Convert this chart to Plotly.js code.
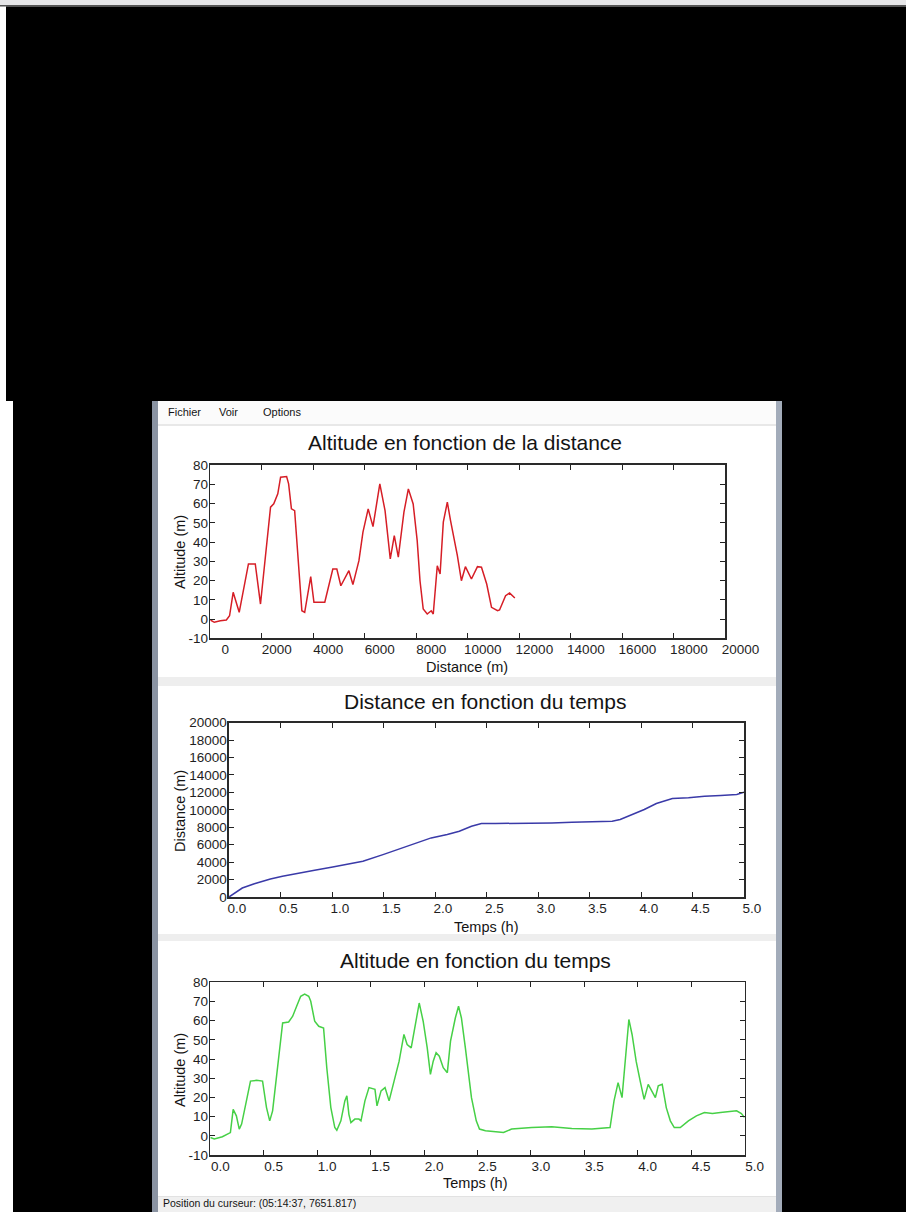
<!DOCTYPE html>
<html>
<head>
<meta charset="utf-8">
<script src="https://cdn.plot.ly/plotly-3.0.1.min.js"></script>
<style>
html,body{margin:0;padding:0;background:#fff;}
#chart{width:906px;height:1212px;}
</style>
</head>
<body>
<div id="chart"></div>
<script>
// ---------- data ----------
const distanceAxisDistance = [0, 155, 389, 623, 748, 888, 1122, 1481, 1746, 1949, 2339, 2464, 2620, 2729, 2963, 3041, 3150, 3275, 3556, 3665, 3899, 4024, 4445, 4757, 4913, 5069, 5381, 5537, 5771, 5927, 6130, 6317, 6582, 6785, 6988, 7144, 7300, 7518, 7690, 7877, 8033, 8142, 8267, 8423, 8579, 8657, 8813, 8922, 9047, 9203, 9328, 9593, 9749, 9905, 10139, 10373, 10529, 10732, 10919, 11153, 11231, 11465, 11621, 11824];
const altitudeByDistance = [-0.5, -1.7, -0.9, -0.5, 1.7, 13.9, 3.5, 28.6, 28.6, 7.8, 58.1, 59.8, 65, 73.7, 74, 70.2, 57.2, 56.3, 4.3, 3.5, 22, 8.7, 8.7, 26, 26, 17.3, 25.1, 17.9, 30.3, 45.1, 57.2, 48, 70.2, 56.3, 31.2, 43.3, 32.1, 55.5, 67.6, 59.8, 40.7, 19.9, 5.2, 2.6, 4.3, 2.6, 27.7, 23.4, 50.3, 60.7, 51.1, 32.9, 19.9, 27.2, 20.8, 27.2, 26.9, 18.2, 6.1, 4.3, 4.7, 12.1, 13.5, 10.9];

const timeForDistance = [0, 0.129, 0.246, 0.402, 0.519, 0.675, 0.831, 1.007, 1.144, 1.300, 1.495, 1.651, 1.807, 1.963, 2.119, 2.236, 2.354, 2.451, 2.588, 2.744, 2.939, 3.134, 3.329, 3.525, 3.720, 3.798, 3.915, 4.032, 4.149, 4.305, 4.461, 4.617, 4.774, 4.930, 5.0];
const distanceByTime = [0, 1030, 1530, 2070, 2375, 2760, 3065, 3450, 3715, 4100, 4865, 5520, 6205, 6780, 7165, 7550, 8120, 8430, 8430, 8430, 8505, 8505, 8580, 8660, 8700, 8890, 9460, 10040, 10730, 11300, 11380, 11570, 11650, 11760, 12030];

const timeForAltitude = [0, 0.038, 0.113, 0.169, 0.188, 0.214, 0.244, 0.271, 0.293, 0.338, 0.376, 0.432, 0.489, 0.526, 0.556, 0.583, 0.632, 0.677, 0.733, 0.771, 0.808, 0.846, 0.883, 0.921, 0.940, 0.977, 1.015, 1.060, 1.090, 1.128, 1.165, 1.184, 1.222, 1.259, 1.278, 1.297, 1.316, 1.353, 1.391, 1.410, 1.447, 1.485, 1.541, 1.560, 1.598, 1.635, 1.673, 1.711, 1.767, 1.812, 1.842, 1.880, 1.917, 1.955, 1.992, 2.030, 2.060, 2.086, 2.113, 2.143, 2.180, 2.218, 2.248, 2.293, 2.323, 2.350, 2.387, 2.444, 2.489, 2.519, 2.575, 2.669, 2.744, 2.820, 3.008, 3.195, 3.383, 3.571, 3.684, 3.741, 3.778, 3.816, 3.853, 3.891, 3.917, 3.947, 3.985, 4.023, 4.060, 4.098, 4.135, 4.165, 4.192, 4.229, 4.267, 4.305, 4.342, 4.398, 4.474, 4.549, 4.624, 4.699, 4.774, 4.850, 4.925, 4.970, 5.0];
const altitudeByTime = [-0.9, -1.7, -0.5, 0.9, 1.7, 13.8, 10.4, 3.5, 6.1, 18.2, 28.5, 28.9, 28.5, 14.7, 7.8, 13.0, 37.2, 58.8, 59.3, 62.3, 67.5, 72.7, 73.9, 72.7, 70.1, 59.7, 57.1, 56.2, 35.5, 14.7, 4.3, 2.9, 7.8, 18.2, 20.8, 11.2, 6.9, 8.7, 8.7, 7.8, 18.2, 25.1, 24.2, 15.6, 23.4, 25.1, 18.2, 26.8, 38.9, 52.8, 47.6, 45.8, 58.0, 69.2, 59.7, 45.8, 32.0, 38.9, 43.3, 41.5, 35.5, 32.9, 49.3, 61.4, 67.5, 61.4, 45.8, 19.9, 7.8, 3.5, 2.6, 2.2, 1.7, 3.5, 4.3, 4.7, 3.8, 3.5, 4.0, 4.3, 18.2, 27.7, 19.9, 44.1, 60.6, 52.8, 38.9, 28.5, 19.0, 26.8, 23.4, 19.9, 26.0, 26.8, 14.7, 7.8, 4.3, 4.3, 7.8, 10.4, 12.1, 11.6, 12.1, 12.6, 13.0, 11.6, 9.5];

const altitudeTickValues = [-10, 0, 10, 20, 30, 40, 50, 60, 70, 80];
const altitudeTickText = ['-10', '0', '10', '20', '30', '40', '50', '60', '70', '80'];
const distanceTickValues = [0, 2000, 4000, 6000, 8000, 10000, 12000, 14000, 16000, 18000, 20000];
const distanceTickText = ['0', '2000', '4000', '6000', '8000', '10000', '12000', '14000', '16000', '18000', '20000'];
const timeTickValues = [0, 0.5, 1.0, 1.5, 2.0, 2.5, 3.0, 3.5, 4.0, 4.5, 5.0];
const timeTickText = ['0.0', '0.5', '1.0', '1.5', '2.0', '2.5', '3.0', '3.5', '4.0', '4.5', '5.0'];

const chartTitles = ['Altitude en fonction de la distance', 'Distance en fonction du temps', 'Altitude en fonction du temps'];
const xAxisTitles = ['Distance (m)', 'Temps (h)', 'Temps (h)'];
const yAxisTitles = ['Altitude (m)', 'Distance (m)', 'Altitude (m)'];
const menuItems = ['Fichier', 'Voir', 'Options'];
const statusText = 'Position du curseur: (05:14:37, 7651.817)';

// ---------- layout helpers (pixel -> paper) ----------
const W = 906, H = 1212;
const fx = p => p / W;
const fy = p => 1 - p / H;
const FONT = 'Liberation Sans, Arial, sans-serif';

function rect(x0, y0, x1, y1, color) {
  return {type: 'rect', xref: 'paper', yref: 'paper', layer: 'below',
    x0: fx(x0), x1: fx(x1), y0: fy(y1), y1: fy(y0),
    fillcolor: color, line: {width: 0}};
}
function ann(text, x, y, size, extra) {
  return Object.assign({text: text, xref: 'paper', yref: 'paper', x: fx(x), y: fy(y),
    xanchor: 'center', yanchor: 'middle', showarrow: false,
    font: {family: FONT, size: size, color: '#141414'}}, extra || {});
}
function xAxis(domL, domR, range, vals, text, shift, anchor) {
  return {domain: [fx(domL), fx(domR)], range: range, anchor: anchor,
    tickmode: 'array', tickvals: vals, ticktext: text,
    ticks: 'inside', ticklen: 5, tickwidth: 1, tickcolor: '#222',
    showline: true, linecolor: '#2a2a2a', linewidth: 1.6, mirror: 'ticks',
    showgrid: false, zeroline: false, fixedrange: true,
    ticklabelshift: shift, ticklabelstandoff: -2,
    tickfont: {family: FONT, size: 13.5, color: '#1e1e1e'}};
}
function yAxis(domT, domB, range, vals, text, anchor) {
  return {domain: [fy(domB), fy(domT)], range: range, anchor: anchor,
    tickmode: 'array', tickvals: vals, ticktext: text,
    ticks: 'inside', ticklen: 5, tickwidth: 1, tickcolor: '#222',
    showline: true, linecolor: '#2a2a2a', linewidth: 1.6, mirror: 'ticks',
    showgrid: false, zeroline: false, fixedrange: true,
    ticklabelstandoff: -2,
    tickfont: {family: FONT, size: 13.5, color: '#1e1e1e'}};
}

const traces = [
  {x: distanceAxisDistance, y: altitudeByDistance, xaxis: 'x', yaxis: 'y', type: 'scatter', mode: 'lines',
   line: {color: 'rgb(214,30,38)', width: 1.5}, hoverinfo: 'skip'},
  {x: timeForDistance, y: distanceByTime, xaxis: 'x2', yaxis: 'y2', type: 'scatter', mode: 'lines',
   line: {color: 'rgb(58,58,168)', width: 1.5}, hoverinfo: 'skip'},
  {x: timeForAltitude, y: altitudeByTime, xaxis: 'x3', yaxis: 'y3', type: 'scatter', mode: 'lines',
   line: {color: 'rgb(70,208,70)', width: 1.5}, hoverinfo: 'skip'}
];

const shapes = [
  rect(0, 0, 906, 5, '#e6e6e8'),
  rect(0, 5, 906, 6.5, '#555'),
  rect(6, 6.5, 906, 401, '#000'),
  rect(13, 401, 152, 1212, '#000'),
  rect(782, 401, 906, 1212, '#000'),
  rect(152, 401, 158, 1212, '#8a93a2'),
  rect(776, 401, 782, 1212, '#a3acba'),
  rect(158, 401, 776, 424, '#fbfbfb'),
  rect(158, 424, 776, 426, '#e8e8e8'),
  rect(158, 677, 776, 686, '#eeeeee'),
  rect(158, 934, 776, 941, '#eeeeee'),
  rect(158, 1197, 776, 1212, '#f0f0f0'),
  rect(158, 1196, 776, 1197, '#e2e2e2')
];

const annotations = [
  ann(chartTitles[0], 465.4, 443, 21),
  ann(chartTitles[1], 485.5, 701.7, 21),
  ann(chartTitles[2], 475.5, 960, 21),
  ann(xAxisTitles[0], 466.6, 666.7, 14.5),
  ann(xAxisTitles[1], 485.5, 926.7, 14.5),
  ann(xAxisTitles[2], 475.5, 1183.3, 14.5),
  ann(yAxisTitles[0], 180, 552, 14.5, {textangle: -90}),
  ann(yAxisTitles[1], 180, 811, 14.5, {textangle: -90}),
  ann(yAxisTitles[2], 180, 1070, 14.5, {textangle: -90}),
  ann(menuItems[0], 166, 411.7, 11, {xanchor: 'left'}),
  ann(menuItems[1], 216.5, 411.7, 11, {xanchor: 'left'}),
  ann(menuItems[2], 261, 411.7, 11, {xanchor: 'left'}),
  ann(statusText, 161, 1211, 10.5, {xanchor: 'left', yanchor: 'bottom'})
];

const layout = {
  width: W, height: H,
  margin: {l: 0, r: 0, t: 0, b: 0, pad: 0},
  paper_bgcolor: '#ffffff', plot_bgcolor: '#ffffff',
  showlegend: false,
  xaxis: xAxis(210.3, 725.4, [0, 20000], distanceTickValues, distanceTickText, 15, 'y'),
  yaxis: yAxis(465, 638.3, [-10, 80], altitudeTickValues, altitudeTickText, 'x'),
  xaxis2: xAxis(229, 744, [0, 5], timeTickValues, timeTickText, 8, 'y2'),
  yaxis2: yAxis(722.7, 897, [0, 20000], distanceTickValues, distanceTickText, 'x2'),
  xaxis3: xAxis(210.3, 744.6, [0, 5], timeTickValues, timeTickText, 10, 'y3'),
  yaxis3: yAxis(982.3, 1155, [-10, 80], altitudeTickValues, altitudeTickText, 'x3'),
  shapes: shapes,
  annotations: annotations
};

Plotly.newPlot('chart', traces, layout, {displayModeBar: false, staticPlot: true});
</script>
</body>
</html>
